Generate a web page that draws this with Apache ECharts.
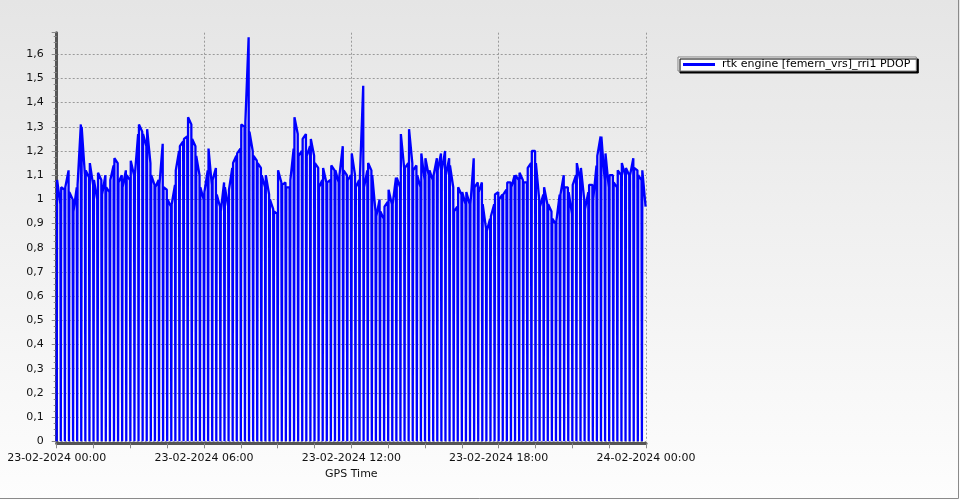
<!DOCTYPE html>
<html>
<head>
<meta charset="utf-8">
<script src="https://cdn.jsdelivr.net/npm/echarts@6/dist/echarts.min.js"></script>
<style>
html,body{margin:0;padding:0;background:#fff;}
#chart{width:960px;height:500px;}
</style>
</head>
<body>
<div id="chart"></div>
<script>
// X axis tick labels (every 6 hours)
const timeLabels = ['23-02-2024 00:00','23-02-2024 06:00','23-02-2024 12:00','23-02-2024 18:00','24-02-2024 00:00'];
const seriesName = 'rtk engine [femern_vrs]_rri1 PDOP';
// PDOP readings: two per 10-minute block (just after and just before each zero dropout)
const pdop = [
  1.08,0.98, 1.05,1.04, 1.05,1.12, 1.03,1.00, 0.95,1.05, 1.06,1.31,
  1.30,1.10, 1.12,1.09, 1.15,1.06, 1.08,1.00, 1.11,1.08, 1.02,1.10,
  1.05,1.03, 1.08,1.14, 1.17,1.15, 1.07,1.10, 1.05,1.12, 1.10,1.08,
  1.16,1.10, 1.10,1.27, 1.31,1.28, 1.27,1.22, 1.29,1.15, 1.10,1.06,
  1.05,1.08, 1.06,1.23, 1.05,1.04, 1.00,0.97, 0.98,1.06, 1.12,1.20,
  1.22,1.24, 1.25,1.26, 1.34,1.31, 1.25,1.22, 1.18,1.10, 1.05,1.00,
  1.03,1.12, 1.21,1.06, 1.08,1.13, 1.02,0.97, 0.95,1.07, 1.05,0.97,
  1.04,1.13, 1.15,1.18, 1.19,1.21, 1.31,1.30, 1.32,1.67, 1.28,1.20,
  1.18,1.16, 1.15,1.13, 1.10,1.05, 1.10,1.02, 1.00,0.96, 0.95,0.94,
  1.12,1.07, 1.06,1.07, 1.05,1.05, 1.08,1.21, 1.34,1.27, 1.18,1.20,
  1.25,1.27, 1.18,1.22, 1.25,1.18, 1.15,1.13, 1.05,1.08, 1.13,1.07,
  1.07,1.08, 1.14,1.12, 1.12,1.07, 1.10,1.22, 1.12,1.10, 1.08,1.10,
  1.19,1.10, 1.05,1.08, 1.10,1.47, 1.05,1.12, 1.15,1.12, 1.10,0.95,
  0.93,1.00, 0.95,0.92, 0.97,0.99, 1.04,0.98, 0.98,1.09, 1.09,1.05,
  1.27,1.13, 1.13,1.15, 1.29,1.15, 1.12,1.14, 1.10,1.05, 1.19,1.08,
  1.17,1.10, 1.12,1.08, 1.10,1.17, 1.12,1.19, 1.12,1.20, 1.10,1.17,
  1.14,1.05, 0.95,0.97, 1.05,1.02, 1.03,0.98, 1.03,0.98, 0.98,1.17,
  1.05,1.07, 1.03,1.07, 0.98,0.88, 0.87,0.92, 0.93,0.98, 1.02,1.03,
  1.00,1.02, 1.02,1.04, 1.07,1.07, 1.05,1.10, 1.10,1.08, 1.11,1.08,
  1.07,1.07, 1.13,1.15, 1.20,1.20, 1.15,1.00, 0.97,1.02, 1.05,0.98,
  0.98,0.95, 0.92,0.90, 0.91,1.02, 1.02,1.10, 1.05,1.05, 1.03,0.94,
  1.06,1.10, 1.15,1.08, 1.13,1.00, 0.96,1.03, 1.06,1.06, 1.00,1.14,
  1.18,1.26, 1.26,1.08, 1.19,1.05, 1.10,1.10, 1.07,1.05, 1.12,1.10,
  1.15,1.10, 1.13,1.10, 1.10,1.17, 1.13,1.12, 1.10,1.08, 1.12,0.97
];
const dropoutValue = 0;       // PDOP drops to zero at the start of each block
const blockMinutes = 10;

const lineData = [];
for (let k = 0; k < pdop.length / 2; k++) {
  const t0 = k * blockMinutes;
  lineData.push([t0, dropoutValue]);
  lineData.push([t0 + 1, pdop[2 * k]]);
  lineData.push([t0 + blockMinutes - 1, pdop[2 * k + 1]]);
}

const FONT = 'DejaVu Sans';
const chart = echarts.init(document.getElementById('chart'), null, {renderer: 'canvas'});
chart.setOption({
  animation: false,
  backgroundColor: {
    type: 'linear', x: 0, y: 0, x2: 0, y2: 1,
    colorStops: [{offset: 0, color: '#e5e5e5'}, {offset: 1, color: '#fdfdfd'}]
  },
  textStyle: {fontFamily: FONT},
  grid: {left: 56.7, top: 32.7, width: 589.3, height: 408.6, containLabel: false},
  legend: {
    left: 678, top: 57,
    orient: 'horizontal',
    backgroundColor: '#ffffff',
    borderColor: '#808080', borderWidth: 1,
    padding: [2, 6, 1, 5],
    shadowColor: '#000', shadowBlur: 0, shadowOffsetX: 2, shadowOffsetY: 2,
    itemWidth: 32, itemHeight: 3, itemGap: 0,
    textStyle: {fontFamily: FONT, fontSize: 11, color: '#000', padding: [0, 0, 0, 2]},
    data: [{name: seriesName, icon: 'rect'}]
  },
  xAxis: {
    type: 'value', min: 0, max: 1440, interval: 360,
    offset: 2,
    name: 'GPS Time', nameLocation: 'middle', nameGap: 23,
    nameTextStyle: {fontFamily: FONT, fontSize: 11, color: '#111'},
    axisLine: {show: true, onZero: false, lineStyle: {color: '#555', width: 3}},
    axisTick: {show: true, length: 5, lineStyle: {color: '#888'}},
    minorTick: {show: true, splitNumber: 4, length: 5, lineStyle: {color: '#888'}},
    axisLabel: {
      margin: 9, fontFamily: FONT, fontSize: 11, color: '#111',
      showMinLabel: true, showMaxLabel: true,
      formatter: v => timeLabels[Math.round(v / 360)] || ''
    },
    splitLine: {show: true, lineStyle: {color: '#9a9a9a', type: [2, 2], width: 1}}
  },
  yAxis: {
    type: 'value', min: 0, max: 1.689, interval: 0.1,
    offset: 4,
    axisLine: {show: true, lineStyle: {color: '#555', width: 3}},
    axisTick: {show: true, length: 5, lineStyle: {color: '#888'}},
    minorTick: {show: true, splitNumber: 4, length: 3, lineStyle: {color: '#888'}},
    axisLabel: {
      margin: 9, fontFamily: FONT, fontSize: 11, color: '#111',
      showMaxLabel: false,
      formatter: v => {
        const r = Math.round(v * 10);
        if (Math.abs(v * 10 - r) > 1e-6) return '';
        return String(r / 10).replace('.', ',');
      }
    },
    splitLine: {show: true, showMaxLine: false, lineStyle: {color: '#9a9a9a', type: [2, 2], width: 1}}
  },
  graphic: [{
    type: 'polyline', silent: true,
    shape: {points: [[958.5, 0], [958.5, 498.5], [0, 498.5]]},
    style: {stroke: '#8a8a8a', lineWidth: 1, fill: null}
  }],
  series: [{
    name: seriesName,
    type: 'line',
    data: lineData,
    showSymbol: false,
    symbol: 'none',
    sampling: null,
    lineStyle: {color: '#0000ff', width: 2.3},
    itemStyle: {color: '#0000ff'}
  }]
});
</script>
</body>
</html>
